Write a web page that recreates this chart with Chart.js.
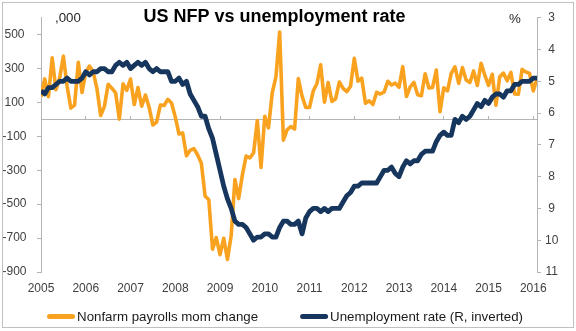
<!DOCTYPE html>
<html>
<head>
<meta charset="utf-8">
<title>US NFP vs unemployment rate</title>
<script src="https://cdn.jsdelivr.net/npm/chart.js@4/dist/chart.umd.min.js"></script>
<style>
  html, body { margin: 0; padding: 0; background: #fff; }
</style>
</head>
<body>
<canvas id="myChart" width="576" height="331"></canvas>
<script>
// Monthly data, Jan 2005 - Feb 2016
var years = [2005, 2006, 2007, 2008, 2009, 2010, 2011, 2012, 2013, 2014, 2015, 2016];

// Nonfarm payrolls, month-on-month change ('000)
var nfp = [
  134, 239, 134, 363, 175, 245, 373, 196, 67, 84, 337, 159,
  277, 315, 280, 182, 23, 77, 207, 184, 157, 2, 210, 171,
  238, 88, 188, 78, 144, 71, -33, -16, 85, 82, 118, 97,
  15, -86, -80, -214, -182, -172, -210, -259, -452, -474, -765, -697,
  -798, -701, -826, -684, -354, -467, -327, -216, -227, -198, -6, -283,
  18, -50, 156, 251, 516, -122, -61, -42, -57, 241, 137, 71,
  70, 168, 212, 322, 102, 217, 106, 122, 221, 183, 164, 196,
  360, 226, 243, 96, 110, 88, 160, 150, 161, 225, 203, 214,
  190, 311, 135, 192, 218, 146, 140, 269, 185, 189, 291, 45,
  187, 168, 272, 310, 213, 306, 232, 218, 286, 200, 331, 261,
  201, 266, 84, 251, 273, 228, 277, 150, 149, 295, 280, 271,
  168, 242
];

// Unemployment rate (%)
var unemp = [
  5.3, 5.4, 5.2, 5.2, 5.1, 5.0, 5.0, 4.9, 5.0, 5.0, 5.0, 4.9,
  4.7, 4.8, 4.7, 4.7, 4.6, 4.6, 4.7, 4.7, 4.5, 4.4, 4.5, 4.4,
  4.6, 4.5, 4.4, 4.5, 4.4, 4.6, 4.7, 4.6, 4.7, 4.7, 4.7, 5.0,
  5.0, 4.9, 5.1, 5.0, 5.4, 5.6, 5.8, 6.1, 6.1, 6.5, 6.8, 7.3,
  7.8, 8.3, 8.7, 9.0, 9.4, 9.5, 9.5, 9.6, 9.8, 10.0, 9.9, 9.9,
  9.8, 9.8, 9.9, 9.9, 9.6, 9.4, 9.4, 9.5, 9.5, 9.4, 9.8, 9.3,
  9.1, 9.0, 9.0, 9.1, 9.0, 9.1, 9.0, 9.0, 9.0, 8.8, 8.6, 8.5,
  8.3, 8.3, 8.2, 8.2, 8.2, 8.2, 8.2, 8.0, 7.8, 7.8, 7.7, 7.9,
  8.0, 7.7, 7.5, 7.6, 7.5, 7.5, 7.3, 7.2, 7.2, 7.2, 6.9, 6.7,
  6.6, 6.7, 6.7, 6.2, 6.3, 6.1, 6.2, 6.1, 5.9, 5.7, 5.8, 5.6,
  5.7, 5.5, 5.4, 5.4, 5.5, 5.3, 5.3, 5.1, 5.1, 5.0, 5.0, 5.0,
  4.9, 4.9
];

var nfpTicks = [-900, -700, -500, -300, -100, 100, 300, 500];
var rateTicks = [3, 4, 5, 6, 7, 8, 9, 10, 11];

var font = '"Liberation Sans", Arial, sans-serif';
var axisGrey = "#b4b4b4";
var labelColor = "#404040";

Chart.defaults.font.family = font;
Chart.defaults.font.size = 12;
Chart.defaults.color = labelColor;

// title, unit captions, legend and outer frame
var decorations = {
  id: "decorations",
  afterDraw: function (chart) {
    var ctx = chart.ctx;
    ctx.save();

    ctx.strokeStyle = "#c0c0c0";
    ctx.lineWidth = 1;
    ctx.strokeRect(2.5, 2.5, 571, 325);

    ctx.fillStyle = "#000";
    ctx.textAlign = "center";
    ctx.textBaseline = "alphabetic";
    ctx.font = "bold 18px " + font;
    ctx.fillText("US NFP vs unemployment rate", 274.5, 21.5);

    ctx.font = "13.3px " + font;
    ctx.fillStyle = "#262626";
    ctx.textAlign = "left";
    ctx.fillText(",000", 55, 22);
    ctx.textAlign = "center";
    ctx.fillText("%", 515, 23);

    // legend
    var items = chart.data.datasets;
    var swatch = 28, gap = 2, spacing = 42;
    ctx.font = "13.3px " + font;
    var total = 0;
    items.forEach(function (ds, i) {
      total += swatch + gap + ctx.measureText(ds.label).width;
      if (i > 0) total += spacing;
    });
    var x = 285 - total / 2;
    var y = 316.5;
    ctx.textAlign = "left";
    ctx.textBaseline = "middle";
    items.forEach(function (ds) {
      ctx.strokeStyle = ds.borderColor;
      ctx.lineWidth = 5;
      ctx.lineCap = "round";
      ctx.beginPath();
      ctx.moveTo(x + 2.5, y);
      ctx.lineTo(x + swatch - 2.5, y);
      ctx.stroke();
      ctx.fillStyle = "#1a1a1a";
      ctx.fillText(ds.label, x + swatch + gap, y + 0.5);
      x += swatch + gap + ctx.measureText(ds.label).width + spacing;
    });

    ctx.restore();
  }
};

new Chart("myChart", {
  type: "line",
  data: {
    datasets: [{
      label: "Nonfarm payrolls mom change",
      data: nfp.map(function (v, i) { return { x: i, y: v }; }),
      borderColor: "#f9a21f",
      borderWidth: 3.6,
      pointRadius: 0,
      tension: 0,
      borderJoinStyle: "round",
      yAxisID: "y",
      order: 1
    }, {
      label: "Unemployment rate (R, inverted)",
      data: unemp.map(function (v, i) { return { x: i, y: v }; }),
      borderColor: "#17365d",
      borderWidth: 4.8,
      pointRadius: 0,
      tension: 0,
      borderJoinStyle: "round",
      yAxisID: "y1",
      order: 0
    }]
  },
  options: {
    responsive: false,
    animation: false,
    devicePixelRatio: 1,
    layout: { padding: { top: 14, left: 0, right: 0, bottom: 35 } },
    plugins: {
      legend: { display: false },
      title: { display: false },
      tooltip: { enabled: false }
    },
    scales: {
      // axis line through zero with year tick marks
      x: {
        type: "linear",
        axis: "x",
        min: 0,
        max: nfp.length - 1,
        position: { y: 0 },
        afterBuildTicks: function (s) {
          s.ticks = years.slice(1).map(function (yr, i) { return { value: (i + 1) * 12 }; });
        },
        ticks: { display: false },
        grid: { drawOnChartArea: false, tickLength: -4, color: axisGrey },
        border: { color: axisGrey }
      },
      // year labels along the bottom
      xl: {
        type: "linear",
        axis: "x",
        position: "bottom",
        min: 0,
        max: nfp.length - 1,
        afterBuildTicks: function (s) {
          s.ticks = years.map(function (yr, i) { return { value: i * 12 }; });
        },
        afterFit: function (s) { s.height = 24; },
        ticks: {
          autoSkip: false,
          maxRotation: 0,
          padding: 9,
          callback: function (v) { return years[Math.round(v / 12)]; }
        },
        grid: { display: false, drawTicks: false },
        border: { display: false }
      },
      y: {
        position: "left",
        min: -900,
        max: 600,
        afterBuildTicks: function (s) {
          s.ticks = nfpTicks.map(function (v) { return { value: v }; });
        },
        afterFit: function (s) { s.width = 41; },
        ticks: { crossAlign: "center", padding: 10.5 },
        grid: { drawOnChartArea: false, tickLength: 4, color: axisGrey },
        border: { color: axisGrey }
      },
      y1: {
        position: "right",
        reverse: true,
        min: 3,
        max: 11,
        afterBuildTicks: function (s) {
          s.ticks = rateTicks.map(function (v) { return { value: v }; });
        },
        afterFit: function (s) { s.width = 39; },
        ticks: { crossAlign: "center", padding: 4 },
        grid: { drawOnChartArea: false, tickLength: 4, color: axisGrey },
        border: { color: axisGrey }
      }
    }
  },
  plugins: [decorations]
});
</script>
</body>
</html>
